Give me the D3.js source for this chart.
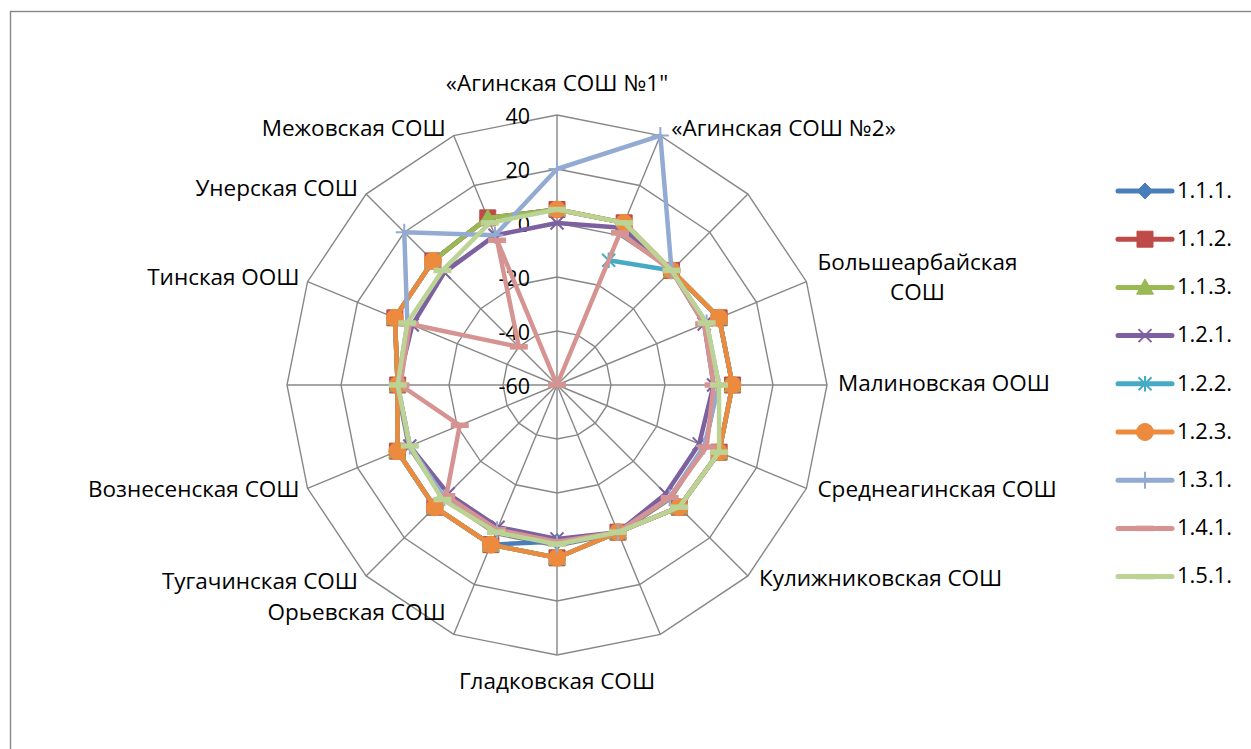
<!DOCTYPE html>
<html>
<head>
<meta charset="utf-8">
<script src="https://cdn.jsdelivr.net/npm/d3@7"></script>
<style>
    body { margin: 0; background: #ffffff; }
    svg { display: block; font-family: "Open Sans", "Noto Sans", sans-serif; }
    .grid { fill: none; stroke: #878787; stroke-width: 1.4; }
    .tick, .catLabel, .legendText { fill: #000000; }
</style>
</head>
<body>
<script>

// Categories (three spokes have no name in the original sheet)
var categories = [
    "«Агинская СОШ №1\"",
    "«Агинская СОШ №2»",
    "",
    "Большеарбайская\nСОШ",
    "Малиновская ООШ",
    "Среднеагинская СОШ",
    "Кулижниковская СОШ",
    "",
    "Гладковская СОШ",
    "Орьевская СОШ",
    "Тугачинская СОШ",
    "Вознесенская СОШ",
    "",
    "Тинская ООШ",
    "Унерская СОШ",
    "Межовская СОШ"
];

// Radial axis ticks
var tickValues = [-60, -40, -20, 0, 20, 40];

// Series names
var seriesNames = ["1.1.1.", "1.1.2.", "1.1.3.", "1.2.1.", "1.2.2.", "1.2.3.", "1.3.1.", "1.4.1.", "1.5.1."];

// Series values, one per category (null = no value)
var s111 = [5, 5, 0, 5, 5, 5, 4, -1, -2, 4, 4, 4, -1, 5, 5, 7];
var s112 = [5, 5, 0, 5, 5, 5, 4, -1, 4, 4, 4, 4, -1, 5, 5, 7];
var s113 = [5, 5, 0, 5, 5, 5, 4, -1, 4, 4, 4, 4, -1, 5, 5, 7];
var s121 = [0, 3, 0, -1, -2, -3, -3, -1, -3, -3, -3, -1, -1, -2, -1, 0];
var s122 = [null, -10, 0, 5, 5, 5, 4, -1, 4, 4, 4, 4, -1, 5, 5, null];
var s123 = [5, 5, 0, 5, 5, 5, 4, -1, 4, 4, 4, 4, -1, 5, 5, null];
var s131 = [20, 40, 0, 0, 0, -1, -1, -1, -1, -2, -1, -1, -1, 0, 20, 0];
var s141 = [-60, 1, 0, -1, -2, 0, -1, -1, -2, -2, -2, -21, -2, -1, -40, -2];
var s151 = [5, 5, 0, 0, 0, 5, 4, -1, -1, -1, 0, -1, -1, 0, 0, 5];

var seriesValues = [s111, s112, s113, s121, s122, s123, s131, s141, s151];


window.onload = function() {
    radarChart();
};


/*
 * Returns the path of an Excel-like marker centred on 0,0
 */

function markerPath(type, s) {
    var h = s / 2;
    if (type == "diamond") {
        return `M0,${-h}L${h},0L0,${h}L${-h},0Z`;
    } else if (type == "square") {
        return `M${-h},${-h}H${h}V${h}H${-h}Z`;
    } else if (type == "triangle") {
        return `M0,${-h}L${h},${h * 0.8}L${-h},${h * 0.8}Z`;
    } else if (type == "circle") {
        return `M${h},0A${h},${h} 0 1,1 ${-h},0A${h},${h} 0 1,1 ${h},0Z`;
    } else if (type == "x") {
        return `M${-h},${-h}L${h},${h}M${-h},${h}L${h},${-h}`;
    } else if (type == "star") {
        return `M${-h},${-h}L${h},${h}M${-h},${h}L${h},${-h}M0,${-h * 1.2}V${h * 1.2}`;
    } else if (type == "plus") {
        return `M${-h},0H${h}M0,${-h}V${h}`;
    } else if (type == "dash") {
        return `M${-h},0H${h}`;
    }
    return "";
};


/*
 * Draws the radar chart
 */

function radarChart() {

    var svgWidth = 1251;
    var svgHeight = 749;

    var cx = 557;
    var cy = 385;
    var radius = 270;

    var colors = ["#4A7EBB", "#BE4B48", "#98B954", "#7D60A0", "#46AAC5", "#EC8B3E", "#93AAD3", "#D59392", "#BBD395"];
    var markers = ["diamond", "square", "triangle", "x", "star", "circle", "plus", "dash", "dash"];

    const svg = d3.select("body").append("svg")
        .attr("width", svgWidth)
        .attr("height", svgHeight);

    svg.append("rect")
        .attr("width", svgWidth)
        .attr("height", svgHeight)
        .attr("fill", "#ffffff");

    // Chart area frame
    svg.append("rect")
        .attr("x", 10.5)
        .attr("y", 11.5)
        .attr("width", 1400)
        .attr("height", 900)
        .attr("fill", "none")
        .attr("stroke", "#878787")
        .attr("stroke-width", 1.4);

    // Scales
    const rScale = d3.scaleLinear()
        .domain([tickValues[0], tickValues[tickValues.length - 1]])
        .range([0, radius]);

    const angleScale = d3.scaleLinear()
        .domain([0, categories.length])
        .range([0, 2 * Math.PI]);

    const radar = svg.append("g")
        .attr("transform", `translate(${cx}, ${cy})`);

    // Rings
    var ringLine = d3.lineRadial()
        .angle(function(d, i) { return angleScale(i); })
        .radius(function(d) { return rScale(d); });

    tickValues.slice(1).forEach(function(t) {
        var ring = categories.map(function() { return t; });
        ring.push(t);
        radar.append("path")
            .attr("class", "grid")
            .attr("d", ringLine(ring));
    });

    // Spokes
    categories.forEach(function(c, i) {
        var a = angleScale(i);
        radar.append("line")
            .attr("class", "grid")
            .attr("x1", 0)
            .attr("y1", 0)
            .attr("x2", Math.sin(a) * radius)
            .attr("y2", -Math.cos(a) * radius);
    });

    // Tick labels along the top spoke
    tickValues.forEach(function(t) {
        radar.append("text")
            .attr("class", "tick")
            .attr("x", -27)
            .attr("y", -rScale(t) + 3)
            .attr("text-anchor", "end")
            .attr("dominant-baseline", "middle")
            .attr("font-size", 21.5)
            .text(t);
    });

    // Category labels
    var lineHeight = 30;
    var labelNudgeY = {9: -26, 10: 3};
    categories.forEach(function(label, i) {
        if (label == "") return;
        var a = angleScale(i);
        var s = Math.sin(a);
        var c = Math.cos(a);
        var vx = s * radius;
        var vy = -c * radius;
        var middle = Math.abs(s) < 0.01;
        var x = middle ? vx : vx + (s > 0 ? 11 : -8);
        var y = middle ? vy + (c > 0 ? -30 : 28) : vy - 6 * c;
        if (labelNudgeY[i] != undefined) y += labelNudgeY[i];

        var lines = label.split("\n");
        var texts = lines.map(function(l, k) {
            return radar.append("text")
                .attr("class", "catLabel")
                .attr("font-size", 22.5)
                .attr("dominant-baseline", "middle")
                .attr("y", y - (lines.length - 1) * lineHeight / 2 + k * lineHeight)
                .text(l);
        });
        var widths = texts.map(function(t) { return t.node().getComputedTextLength(); });
        var w = d3.max(widths);
        var left = middle ? x - w / 2 : (s > 0 ? x : x - w);
        texts.forEach(function(t, k) {
            t.attr("text-anchor", "middle").attr("x", left + w / 2);
        });
    });

    // Series lines and markers
    var seriesLine = d3.lineRadial()
        .defined(function(d) { return d != null; })
        .angle(function(d, i) { return angleScale(i); })
        .radius(function(d) { return rScale(d); })
        .curve(d3.curveLinear);

    seriesValues.forEach(function(values, j) {
        var closed = values.concat([values[0]]);
        var g = radar.append("g").attr("class", "series");

        g.append("path")
            .attr("d", seriesLine(closed))
            .attr("fill", "none")
            .attr("stroke", colors[j])
            .attr("stroke-width", 4.5)
            .attr("stroke-linejoin", "round");

        values.forEach(function(v, i) {
            if (v == null) return;
            var a = angleScale(i);
            var r = rScale(v);
            drawMarker(g, markers[j], colors[j], Math.sin(a) * r, -Math.cos(a) * r);
        });
    });

    // Legend
    var legend = svg.append("g")
        .attr("class", "legend");

    seriesNames.forEach(function(name, j) {
        var y = 191 + j * 48.2;
        legend.append("line")
            .attr("x1", 1118)
            .attr("x2", 1172)
            .attr("y1", y)
            .attr("y2", y)
            .attr("stroke", colors[j])
            .attr("stroke-width", 5)
            .attr("stroke-linecap", "round");
        drawMarker(legend, markers[j], colors[j], 1145, y);
        legend.append("text")
            .attr("class", "legendText")
            .attr("x", 1177)
            .attr("y", y + 1)
            .attr("dominant-baseline", "middle")
            .attr("font-size", 22)
            .text(name);
    });
};


/*
 * Draws one marker of a given type
 */

function drawMarker(parent, type, color, x, y) {
    var filled = ["diamond", "square", "triangle", "circle"];
    var size = {diamond: 16, square: 16, triangle: 17, circle: 17, x: 13, star: 13, plus: 17, dash: 18};
    var m = parent.append("path")
        .attr("transform", `translate(${x}, ${y})`)
        .attr("d", markerPath(type, size[type]));
    if (filled.includes(type)) {
        m.attr("fill", color).attr("stroke", color).attr("stroke-width", 1);
    } else if (type == "dash") {
        m.attr("fill", "none").attr("stroke", color).attr("stroke-width", 5.5);
    } else {
        m.attr("fill", "none").attr("stroke", color).attr("stroke-width", 2);
    }
};

</script>
</body>
</html>
